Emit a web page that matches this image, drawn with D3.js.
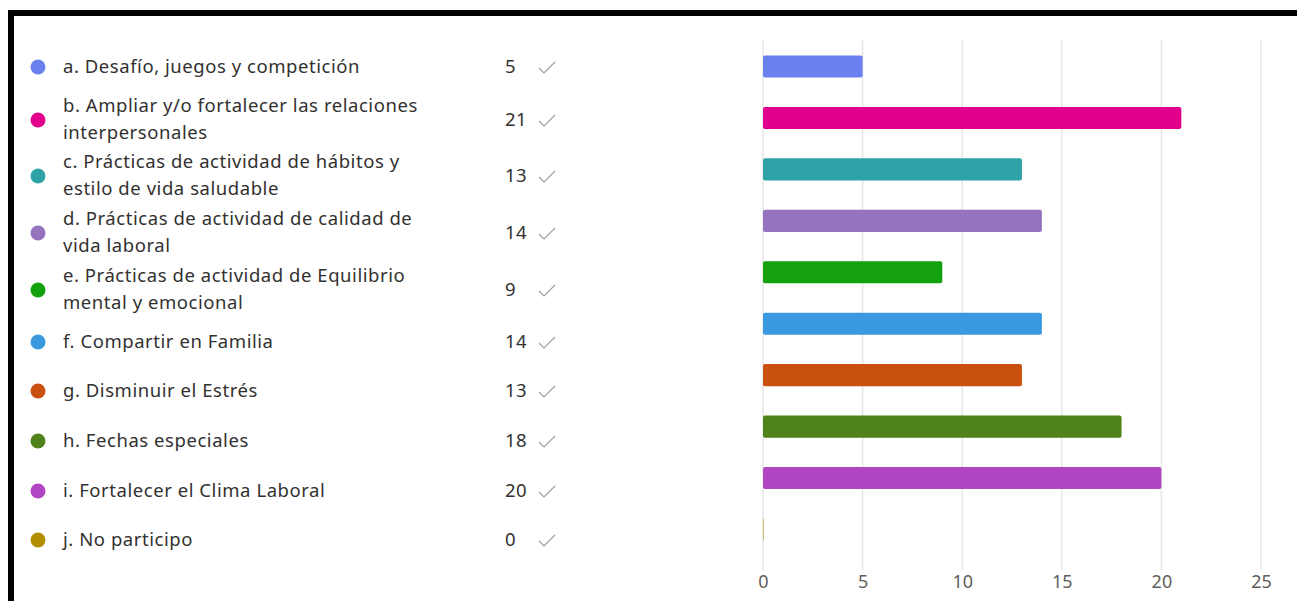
<!DOCTYPE html>
<html><head><meta charset="utf-8">
<script src="https://cdn.jsdelivr.net/npm/d3@7"></script>
<style>html,body{margin:0;padding:0;background:#fff;overflow:hidden}</style>
</head><body>
<svg id="c" width="1297" height="601"></svg>
<script>
const categories = [
  "a. Desafío, juegos y competición",
  "b. Ampliar y/o fortalecer las relaciones|interpersonales",
  "c. Prácticas de actividad de hábitos y|estilo de vida saludable",
  "d. Prácticas de actividad de calidad de|vida laboral",
  "e. Prácticas de actividad de Equilibrio|mental y emocional",
  "f. Compartir en Familia",
  "g. Disminuir el Estrés",
  "h. Fechas especiales",
  "i. Fortalecer el Clima Laboral",
  "j. No participo"
];
const values = [5, 21, 13, 14, 9, 14, 13, 18, 20, 0];
const colors = ["#6A80EF","#E3008C","#2FA2A7","#9573BF","#13A10E","#3B99DF","#CA5010","#4F821A","#B146C2","#B18E00"];
const tickValues = [0, 5, 10, 15, 20, 25];
const legendCenters = [67, 120, 176, 233, 290, 342, 391, 441, 491, 540];

const svg = d3.select("#c");
const font = "'Segoe UI', 'Noto Sans', 'Open Sans', sans-serif";

// frame
svg.append("rect").attr("x",8).attr("y",10).attr("width",1297).attr("height",6).attr("fill","#000");
svg.append("rect").attr("x",8).attr("y",10).attr("width",6).attr("height",601).attr("fill","#000");

const x = d3.scaleLinear().domain([0,25]).range([763,1261]);
const y = d3.scaleBand().domain(d3.range(categories.length)).range([40,556]).paddingInner(0.57).paddingOuter(0.3);

// gridlines
svg.append("g").selectAll("line").data(tickValues).join("line")
  .attr("x1",d=>x(d)).attr("x2",d=>x(d)).attr("y1",40).attr("y2",570)
  .attr("stroke","#e6e6e6").attr("stroke-width",1.5);

const axis = d3.axisBottom(x).tickValues(tickValues).tickSize(0).tickPadding(0);
const ag = svg.append("g").attr("transform","translate(0,575)").call(axis);
ag.select(".domain").remove();
ag.selectAll("text").attr("font-family",font).attr("font-size",18).attr("fill","#605E5C").attr("dy","0.71em");

// bars
svg.append("g").selectAll("rect").data(values).join("rect")
  .attr("x",x(0)).attr("y",(d,i)=>y(i)).attr("height",y.bandwidth())
  .attr("width",d=>Math.max(x(d)-x(0),1)).attr("rx",d=>d===0?0:2)
  .attr("fill",(d,i)=>colors[i]).attr("opacity",(d)=>d===0?0.5:1);

// legend
const lg = svg.append("g").selectAll("g").data(categories).join("g")
  .attr("transform",(d,i)=>`translate(0,${legendCenters[i]})`);
lg.append("circle").attr("cx",38).attr("cy",0).attr("r",7.5).attr("fill",(d,i)=>colors[i]);
lg.each(function(d){
  const lines = d.split("|");
  const t = d3.select(this).append("text").attr("font-family",font).attr("font-size",18.5)
    .attr("letter-spacing",0.55).attr("fill","#323130");
  lines.forEach((ln,k)=>{
    t.append("tspan").attr("x",63).attr("y", lines.length===1?0:(k===0?-14:13)).attr("dy","0.35em").text(ln);
  });
});
lg.append("text").attr("x",505).attr("y",0).attr("dy","0.35em").attr("font-family",font).attr("font-size",18.5)
  .attr("letter-spacing",0.4).attr("fill","#323130")
  .text((d,i)=>values[i]);
lg.append("path").attr("d","M539,1 L544,6 L555,-5").attr("fill","none").attr("stroke","#a19f9d").attr("stroke-width",1.2);
</script>
</body></html>
